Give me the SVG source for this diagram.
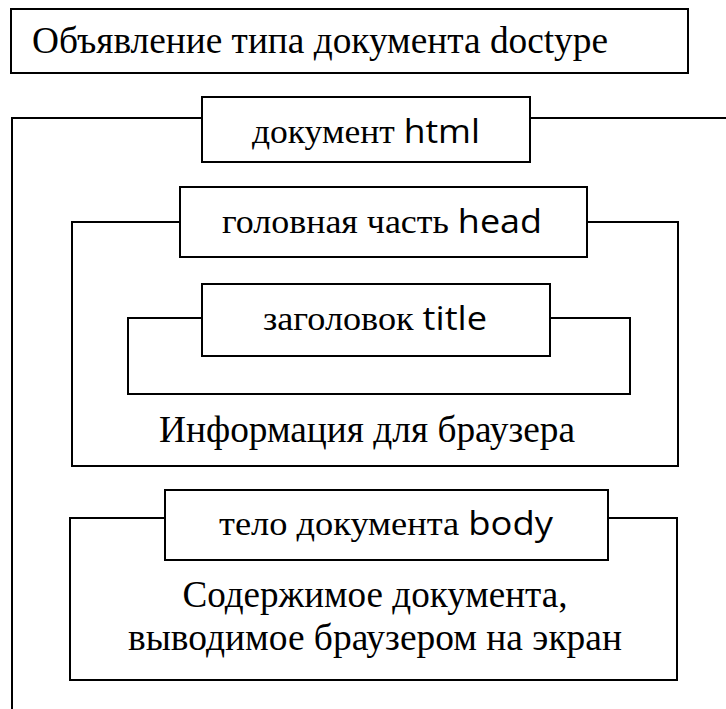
<svg xmlns="http://www.w3.org/2000/svg" width="726" height="709" viewBox="0 0 726 709">
<style>
.box{fill:#fff;stroke:#000;stroke-width:2}
.frame{fill:none;stroke:#000;stroke-width:2}
.t{fill:#000;text-anchor:middle;font-family:"Liberation Serif","Times New Roman",serif}
.s{font-family:"Open Sans","Liberation Sans",sans-serif}
</style>
<rect width="726" height="709" fill="#fff"/>
<g id="doctype">
<rect class="box" x="11" y="9" width="677" height="64"/>
<text class="t" x="320" y="53" font-size="37" textLength="576" lengthAdjust="spacingAndGlyphs">Объявление типа документа doctype</text>
</g>
<g id="html">
<path class="frame" d="M726 118 H12 V709"/>
<rect class="box" x="202" y="97" width="328" height="65"/>
<text class="t" x="366" y="143" font-size="33" textLength="228" lengthAdjust="spacingAndGlyphs">документ <tspan class="s">html</tspan></text>
</g>
<g id="head">
<rect class="frame" x="72" y="222" width="606" height="244"/>
<rect class="box" x="180" y="187" width="407" height="70"/>
<text class="t" x="382" y="233" font-size="33" textLength="320" lengthAdjust="spacingAndGlyphs">головная часть <tspan class="s">head</tspan></text>
<text class="t" x="367" y="442" font-size="37" textLength="416" lengthAdjust="spacingAndGlyphs">Информация для браузера</text>
</g>
<g id="title">
<rect class="frame" x="128" y="318" width="502" height="76"/>
<rect class="box" x="202" y="284" width="348" height="72"/>
<text class="t" x="375" y="330" font-size="33" textLength="224" lengthAdjust="spacingAndGlyphs">заголовок <tspan class="s">title</tspan></text>
</g>
<g id="body">
<rect class="frame" x="70" y="518" width="607" height="162"/>
<rect class="box" x="165" y="490" width="443" height="70"/>
<text class="t" x="386" y="535" font-size="33" textLength="334" lengthAdjust="spacingAndGlyphs">тело документа <tspan class="s">body</tspan></text>
<text class="t" x="375" y="607" font-size="37" textLength="385" lengthAdjust="spacingAndGlyphs">Содержимое документа,</text>
<text class="t" x="375" y="650" font-size="37" textLength="494" lengthAdjust="spacingAndGlyphs">выводимое браузером на экран</text>
</g>
<g id="connectors"></g>
</svg>
